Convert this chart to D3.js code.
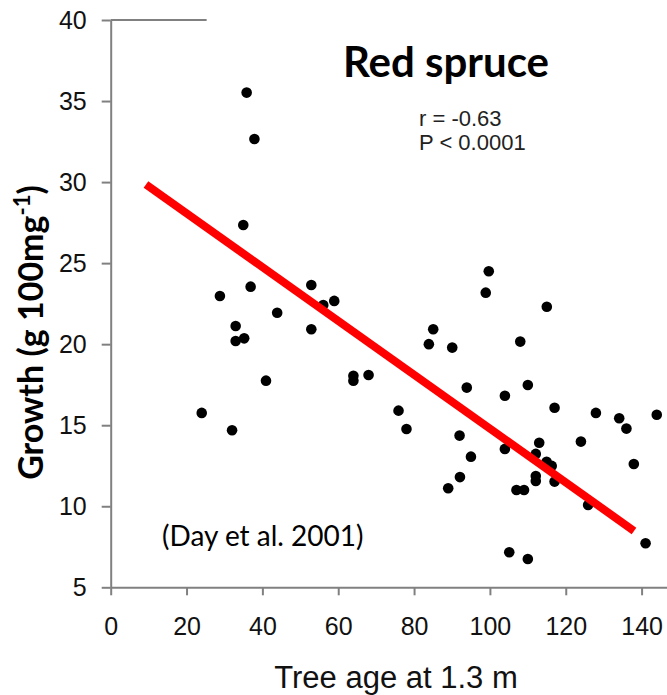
<!DOCTYPE html>
<html lang="en">
<head>
    <meta charset="UTF-8">
    <title>Red spruce</title>
    <script src="https://d3js.org/d3.v7.min.js"></script>
    <style>
        body { margin: 0; background: #fff; }
    </style>
</head>
<body>
    <div id="container"></div>
    <script>
        // Data
        const treeAge = [24.0, 28.8, 32.0, 32.95, 32.95, 35.2, 34.96, 35.85, 36.9, 37.9,
                         40.95, 43.9, 52.9, 52.9, 56.05, 58.95, 64.0, 64.0, 68.0, 75.9,
                         78.0, 83.9, 85.05, 89.0, 90.06, 92.0, 92.1, 93.9, 95.0, 98.9,
                         99.7, 103.95, 103.95, 105.1, 107.0, 108.0, 109.0, 110.0, 110.0, 112.1,
                         112.1, 112.1, 113.0, 114.95, 115.0, 116.3, 117.05, 117.05, 124.0, 125.9,
                         127.95, 134.1, 136.0, 137.95, 141.05, 144.0];
        const growth = [15.76, 22.97, 14.69, 21.12, 20.2, 20.36, 27.35, 35.52, 23.55, 32.66,
                        17.75, 21.94, 23.65, 20.92, 22.42, 22.67, 18.05, 17.75, 18.1, 15.9,
                        14.77, 20.0, 20.92, 11.11, 19.79, 14.36, 11.8, 17.32, 13.06, 23.18,
                        24.5, 16.82, 13.54, 7.16, 11.0, 20.16, 11.0, 17.48, 6.75, 13.23,
                        11.87, 11.56, 13.92, 12.75, 22.31, 12.49, 16.08, 11.52, 13.99, 10.08,
                        15.76, 15.43, 14.79, 12.61, 7.72, 15.65];

        // Regression line end points
        const fitAge = [9.3, 138.0];
        const fitGrowth = [29.85, 8.48];

        const xTicks = [0, 20, 40, 60, 80, 100, 120, 140];
        const yTicks = [5, 10, 15, 20, 25, 30, 35, 40];

        const titleText = "Red spruce";
        const statLines = ["r = -0.63", "P < 0.0001"];
        const sourceText = "(Day et al. 2001)";

        const width = 667;
        const height = 695;

        const svg = d3.select("#container")
                      .append("svg")
                      .attr("width", width)
                      .attr("height", height);

        // Scales
        const x = d3.scaleLinear().domain([0, 146.7]).range([110.7, 667]);
        const y = d3.scaleLinear().domain([5, 40]).range([587.3, 20]);

        const axisColor = "#808080";
        const labelFont = "'Liberation Sans', Arial, sans-serif";
        const calibriLike = "Lato, 'Open Sans', sans-serif";

        // Y axis
        svg.append("g")
           .attr("transform", `translate(${x(0)},0)`)
           .call(d3.axisLeft(y).tickValues(yTicks).tickSize(9).tickSizeOuter(0).tickPadding(15))
           .call(g => g.selectAll("path, line").attr("stroke", axisColor).attr("stroke-width", 2))
           .call(g => g.selectAll("text")
                       .attr("font-family", labelFont)
                       .attr("font-size", 25)
                       .attr("fill", "#111"));

        // X axis
        svg.append("g")
           .attr("transform", `translate(0,${y(5)})`)
           .call(d3.axisBottom(x).tickValues(xTicks).tickSize(8).tickSizeOuter(0).tickPadding(22))
           .call(g => g.selectAll("path, line").attr("stroke", axisColor).attr("stroke-width", 2))
           .call(g => g.selectAll("text")
                       .attr("font-family", labelFont)
                       .attr("font-size", 25)
                       .attr("fill", "#111"));

        // Short top frame line
        svg.append("line")
           .attr("x1", x(0)).attr("x2", x(25.3))
           .attr("y1", y(40)).attr("y2", y(40))
           .attr("stroke", axisColor)
           .attr("stroke-width", 2);

        // Points
        svg.append("g")
           .selectAll("circle")
           .data(d3.zip(treeAge, growth))
           .join("circle")
           .attr("cx", d => x(d[0]))
           .attr("cy", d => y(d[1]))
           .attr("r", 5.3)
           .attr("fill", "#000");

        // Regression line
        svg.append("line")
           .attr("x1", x(fitAge[0])).attr("y1", y(fitGrowth[0]))
           .attr("x2", x(fitAge[1])).attr("y2", y(fitGrowth[1]))
           .attr("stroke", "#ff0000")
           .attr("stroke-width", 8);

        // Title
        svg.append("text")
           .attr("x", 446)
           .attr("y", 76.7)
           .attr("text-anchor", "middle")
           .attr("font-family", calibriLike)
           .attr("font-weight", "bold")
           .attr("font-size", 42)
           .attr("fill", "#000")
           .text(titleText);

        // r and P values
        svg.append("g")
           .selectAll("text")
           .data(statLines)
           .join("text")
           .attr("x", 419)
           .attr("y", (d, i) => 126 + i * 24)
           .attr("font-family", labelFont)
           .attr("font-size", 22)
           .attr("fill", "#222")
           .text(d => d);

        // Source
        svg.append("text")
           .attr("x", 162)
           .attr("y", 546)
           .attr("font-family", calibriLike)
           .attr("font-size", 28)
           .attr("fill", "#000")
           .text(sourceText);

        // X axis title
        svg.append("text")
           .attr("x", 396)
           .attr("y", 688)
           .attr("text-anchor", "middle")
           .attr("font-family", labelFont)
           .attr("font-size", 31)
           .attr("fill", "#111")
           .text("Tree age at 1.3 m");

        // Y axis title
        const yTitle = svg.append("text")
           .attr("transform", "translate(43,332.5) rotate(-90)")
           .attr("text-anchor", "middle")
           .attr("font-family", calibriLike)
           .attr("font-weight", "bold")
           .attr("font-size", 34)
           .attr("fill", "#000");
        yTitle.append("tspan").text("Growth (g 100mg");
        yTitle.append("tspan").attr("dy", -13).attr("font-size", 22).text("-1");
        yTitle.append("tspan").attr("dy", 13).text(")");
    </script>
</body>
</html>
